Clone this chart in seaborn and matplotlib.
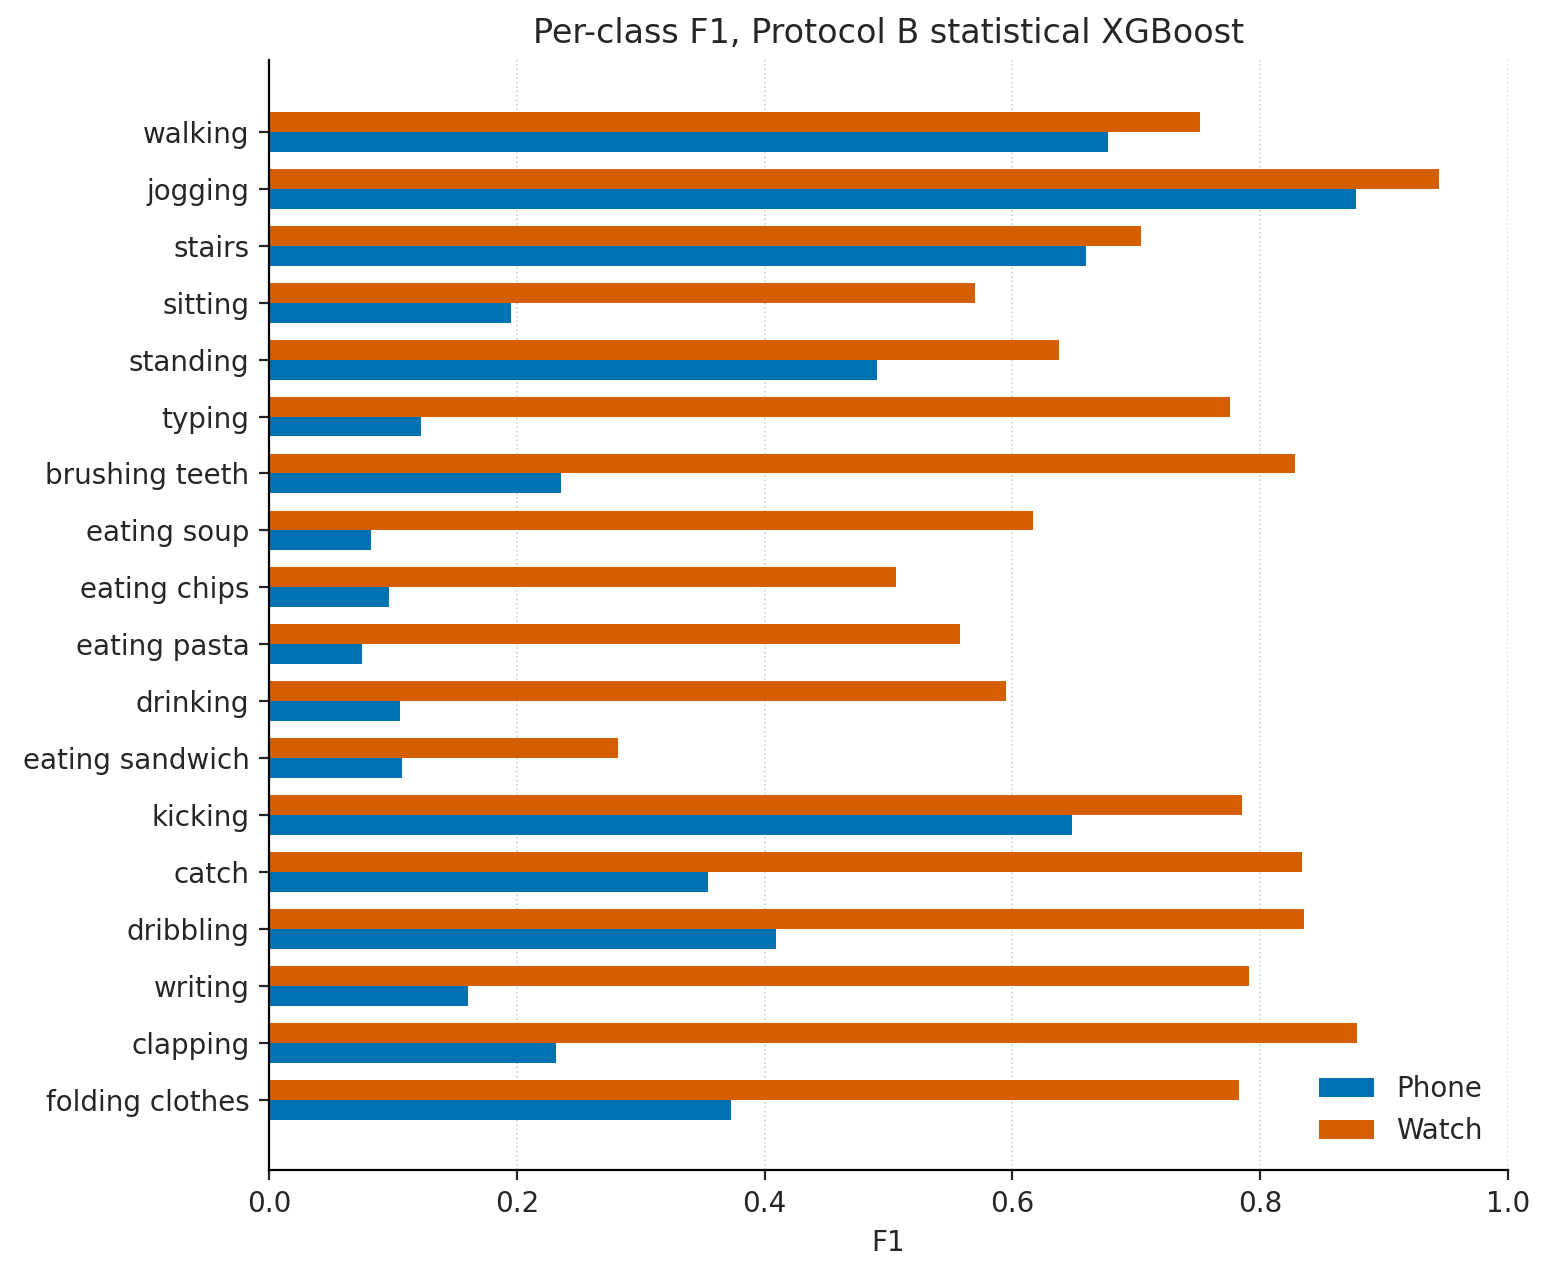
import pandas as pd
import matplotlib
matplotlib.use("Agg")
import matplotlib.pyplot as plt
import seaborn as sns

# Per-class F1
classes = [
    "walking", "jogging", "stairs", "sitting", "standing", "typing",
    "brushing teeth", "eating soup", "eating chips", "eating pasta",
    "drinking", "eating sandwich", "kicking", "catch", "dribbling",
    "writing", "clapping", "folding clothes",
]
phone_f1 = [0.677, 0.877, 0.659, 0.195, 0.491, 0.123, 0.236, 0.082, 0.097,
            0.075, 0.106, 0.107, 0.648, 0.354, 0.409, 0.161, 0.232, 0.373]
watch_f1 = [0.751, 0.944, 0.704, 0.570, 0.638, 0.776, 0.828, 0.617, 0.506,
            0.558, 0.595, 0.282, 0.785, 0.834, 0.835, 0.791, 0.878, 0.783]
colors = {"Phone": "#0072B2", "Watch": "#D55E00"}

df = pd.DataFrame({
    "activity": classes * 2,
    "F1": phone_f1 + watch_f1,
    "device": ["Phone"] * len(classes) + ["Watch"] * len(classes),
})

sns.set_theme(style="ticks")
plt.rcParams["font.family"] = ["DejaVu Sans"]

fig, ax = plt.subplots(figsize=(7.755, 6.38), dpi=200)
fig.subplots_adjust(left=0.1734, right=0.9723, top=0.953, bottom=0.083)

# watch drawn first so it sits above phone in each group
sns.barplot(data=df, y="activity", x="F1", hue="device",
            hue_order=["Watch", "Phone"], order=classes, palette=colors,
            width=0.7, orient="h", ax=ax, linewidth=0, saturation=1)

ax.set_xlim(0, 1.0)
ax.set_ylim(len(classes) - 1 + 1.23, -1.26)
ax.set_ylabel("")
ax.set_xlabel("F1", fontsize=10)
ax.set_title("Per-class F1, Protocol B statistical XGBoost", fontsize=12)
ax.tick_params(labelsize=10, length=3.5, width=0.8, pad=3.5)
ax.grid(axis="x", linestyle=":", color="#d0d0d0", linewidth=0.6)
ax.set_axisbelow(True)
for s in ["left", "bottom"]:
    ax.spines[s].set_color("black")
    ax.spines[s].set_linewidth(0.8)
sns.despine(ax=ax)

handles, labels = ax.get_legend_handles_labels()
order = [labels.index("Phone"), labels.index("Watch")]
ax.legend([handles[i] for i in order], [labels[i] for i in order],
          loc="lower right", frameon=False, fontsize=10)

plt.savefig("out.png", dpi=200)
